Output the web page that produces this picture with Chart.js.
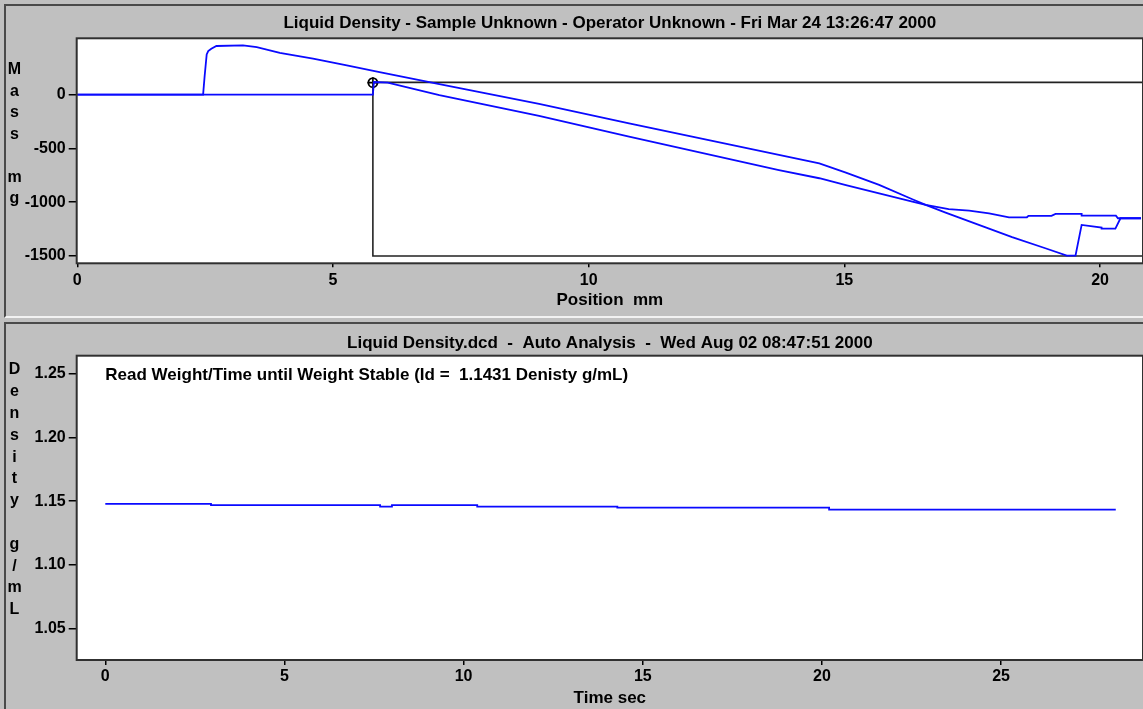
<!DOCTYPE html>
<html>
<head>
<meta charset="utf-8">
<script src="https://cdn.jsdelivr.net/npm/chart.js@4.4.1/dist/chart.umd.min.js"></script>
<style>
  html, body { margin:0; padding:0; background:#c0c0c0; width:1143px; height:709px; overflow:hidden; }
  .panel { position:absolute; box-sizing:border-box; }
  #p1 { left:4px; top:4px; width:1160px; height:314px; border-left:2px solid #4a4a4a; border-top:2px solid #4a4a4a; border-bottom:2px solid #f2f2f2; }
  #p2 { left:4px; top:322px; width:1160px; height:400px; border-left:2px solid #4a4a4a; border-top:2px solid #4a4a4a; }
  canvas { position:absolute; left:0; }
  #c1 { top:0; }
  #c2 { top:320px; }
</style>
</head>
<body>
<div class="panel" id="p1"></div>
<div class="panel" id="p2"></div>
<canvas id="c1" width="1143" height="318"></canvas>
<canvas id="c2" width="1143" height="389"></canvas>
<script>
// ---------- data: top chart (Mass vs Position) ----------
const advancePos  = [0, 2.46, 2.49, 2.53, 2.56, 2.62, 2.72, 3.24, 3.51, 3.96, 4.61, 5.27, 5.91, 7.08, 9.03, 10.79, 13.72, 14.51, 15.03, 15.68, 16.33, 16.59, 16.98, 17.63, 18.28, 18.93, 19.35, 19.52, 19.64, 20.03, 20.03, 20.30, 20.40, 20.80];
const advanceMass = [0, 0, 174, 375, 406, 428, 453, 459, 443, 390, 335, 273, 211, 99, -85, -266, -560, -638, -725, -839, -972, -1025, -1097, -1211, -1325, -1428, -1496, -1496, -1211, -1236, -1245, -1245, -1149, -1149];
const recedePos   = [20.80, 20.35, 20.31, 19.64, 19.64, 19.13, 19.05, 18.60, 18.57, 18.22, 17.83, 17.44, 17.04, 16.59, 16.33, 15.68, 15.03, 14.51, 13.72, 10.79, 9.03, 7.08, 6.07, 5.80, 5.78, 2.46, 0];
const recedeMass  = [-1149, -1149, -1125, -1125, -1109, -1109, -1127, -1127, -1140, -1140, -1103, -1078, -1064, -1025, -994, -917, -840, -777, -701, -390, -197, -3, 112, 118, 0, 0, 0];
const cursorPos   = [21.5, 5.78, 5.78, 21.5];
const cursorMass  = [115, 115, -1500, -1500];
const markerPos   = [5.78];
const markerMass  = [112];
const posTicks    = [0, 5, 10, 15, 20];
const massTicks   = [0, -500, -1000, -1500];

// ---------- data: bottom chart (Density vs Time) ----------
const timeSec     = [0, 2.95, 7.67, 8.00, 10.38, 14.29, 20.20, 28.20];
const densityGmL  = [1.1479, 1.1469, 1.1457, 1.1469, 1.1457, 1.1449, 1.1433, 1.1433];
const timeTicks   = [0, 5, 10, 15, 20, 25];
const densityTicks= [1.05, 1.10, 1.15, 1.20, 1.25];

const topTitle    = 'Liquid Density - Sample Unknown - Operator Unknown - Fri Mar 24 13:26:47 2000';
const bottomTitle = 'Liquid Density.dcd  -  Auto Analysis  -  Wed Aug 02 08:47:51 2000';
const note        = 'Read Weight/Time until Weight Stable (Id =  1.1431 Denisty g/mL)';

const FAM = '"Liberation Sans", Arial, sans-serif';
const BLUE = '#0a0aff';
const tickFont = { family: FAM, size: 16, weight: 'bold' };
const titleFont = { family: FAM, size: 17, weight: 'bold' };

const xy = (xs, ys) => xs.map((x, i) => ({ x: x, y: ys[i] }));

const deco = {
  id: 'deco',
  beforeDraw(chart) {
    const { ctx, chartArea: a } = chart;
    ctx.save();
    ctx.fillStyle = '#ffffff';
    ctx.fillRect(a.left, a.top, a.right - a.left, a.bottom - a.top);
    ctx.restore();
  },
  afterDraw(chart, args, o) {
    const { ctx, chartArea: a } = chart;
    ctx.save();
    ctx.strokeStyle = '#303030';
    ctx.lineWidth = 2;
    ctx.strokeRect(a.left, a.top, a.right - a.left, a.bottom - a.top);
    ctx.fillStyle = '#000';
    ctx.font = 'bold 16px ' + FAM;
    ctx.textAlign = 'center';
    ctx.textBaseline = 'middle';
    o.letters.split('').forEach((ch, i) => {
      ctx.fillText(ch, o.letterX, o.letterTop + i * o.letterStep);
    });
    if (o.note) {
      const xs = chart.scales.x, ys = chart.scales.y;
      ctx.textAlign = 'left';
      ctx.font = 'bold 17px ' + FAM;
      ctx.fillText(o.note, xs.getPixelForValue(o.noteAt[0]), ys.getPixelForValue(o.noteAt[1]) + 1.5);
    }
    ctx.restore();
  }
};

function axisCommon(ticksArr, fmt, tickLen, pad) {
  return {
    type: 'linear',
    afterBuildTicks: s => { s.ticks = ticksArr.map(v => ({ value: v })); },
    ticks: { font: tickFont, color: '#000', padding: pad, maxRotation: 0, autoSkip: false, callback: fmt },
    grid: { drawOnChartArea: false, drawTicks: true, tickLength: tickLen, color: '#000', lineWidth: 1.5 },
    border: { display: false }
  };
}

// ---------- top chart ----------
new Chart(document.getElementById('c1'), {
  type: 'scatter',
  data: {
    datasets: [
      { data: xy(advancePos, advanceMass), showLine: true, borderColor: BLUE, borderWidth: 1.8, pointRadius: 0, tension: 0 },
      { data: xy(recedePos, recedeMass), showLine: true, borderColor: BLUE, borderWidth: 1.8, pointRadius: 0, tension: 0 },
      { data: xy(cursorPos, cursorMass), showLine: true, borderColor: '#222', borderWidth: 1.6, pointRadius: 0, tension: 0 },
      { data: xy(markerPos, markerMass), pointStyle: 'circle', pointRadius: 4.5, borderColor: '#000', backgroundColor: 'rgba(255,255,255,0)', borderWidth: 1.8 },
      { data: xy(markerPos, markerMass), pointStyle: 'cross', pointRadius: 5.5, borderColor: '#000', borderWidth: 1.6 }
    ]
  },
  options: {
    responsive: false, animation: false, devicePixelRatio: 1,
    layout: { padding: 0, autoPadding: false },
    events: [],
    plugins: {
      legend: { display: false }, tooltip: { enabled: false },
      title: { display: true, text: topTitle, fullSize: false, color: '#000', font: titleFont, padding: { top: 13.5, bottom: 4.4 } },
      deco: { letters: 'Mass mg', letterX: 14.5, letterTop: 70, letterStep: 21.5 }
    },
    scales: {
      x: Object.assign(axisCommon(posTicks, v => String(v), 4, 4), {
        min: -0.012, max: 20.84,
        title: { display: true, text: 'Position  mm', color: '#000', font: titleFont, padding: { top: 0, bottom: 7 } },
        afterFit: s => { s.height = 54.7; s.paddingLeft = 0; s.paddingRight = 0; }
      }),
      y: Object.assign(axisCommon(massTicks, v => String(v), 8, 3), {
        min: -1568, max: 524.5,
        afterFit: s => { s.width = 76.7; s.paddingTop = 0; s.paddingBottom = 0; }
      })
    }
  },
  plugins: [deco]
});

// ---------- bottom chart ----------
new Chart(document.getElementById('c2'), {
  type: 'scatter',
  data: {
    datasets: [
      { data: xy(timeSec, densityGmL), showLine: true, stepped: 'before', borderColor: BLUE, borderWidth: 1.8, pointRadius: 0 }
    ]
  },
  options: {
    responsive: false, animation: false, devicePixelRatio: 1,
    layout: { padding: 0, autoPadding: false },
    events: [],
    plugins: {
      legend: { display: false }, tooltip: { enabled: false },
      title: { display: true, text: bottomTitle, fullSize: false, color: '#000', font: titleFont, padding: { top: 13.3, bottom: 2.0 } },
      deco: { letters: 'Density g/mL', letterX: 14.5, letterTop: 50, letterStep: 21.8, note: note, noteAt: [0, 1.25] }
    },
    scales: {
      x: Object.assign(axisCommon(timeTicks, v => String(v), 5, 2), {
        min: -0.798, max: 28.96,
        title: { display: true, text: 'Time sec', color: '#000', font: titleFont, padding: { top: 0, bottom: 0 } },
        afterFit: s => { s.height = 49; s.paddingLeft = 0; s.paddingRight = 0; }
      }),
      y: Object.assign(axisCommon(densityTicks, v => v.toFixed(2), 8, 3), {
        min: 1.0251, max: 1.2644,
        afterFit: s => { s.width = 76.7; s.paddingTop = 0; s.paddingBottom = 0; }
      })
    }
  },
  plugins: [deco]
});
</script>
</body>
</html>
